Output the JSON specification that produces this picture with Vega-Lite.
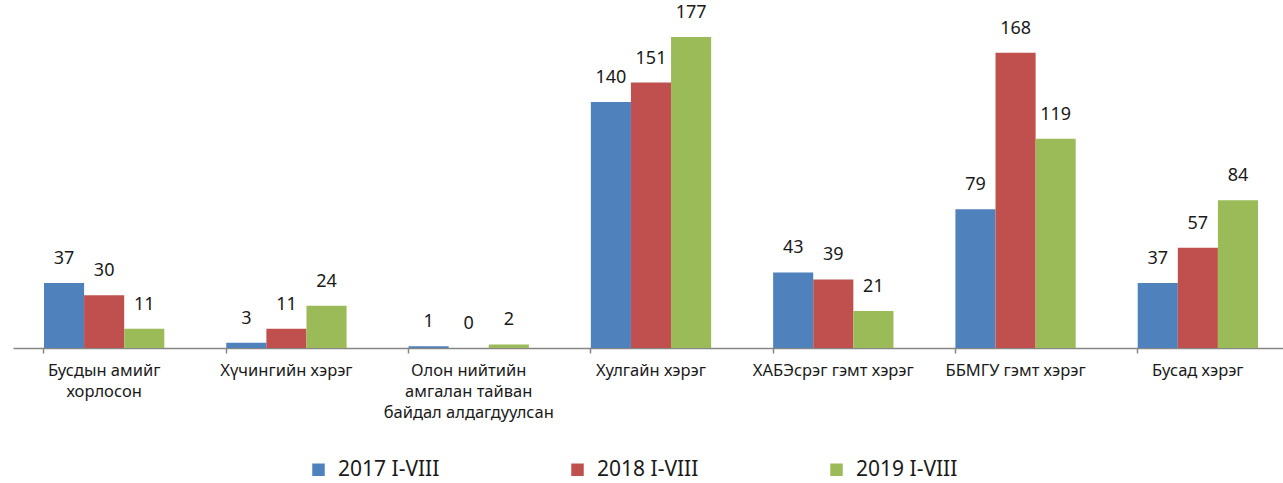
{
  "$schema": "https://vega.github.io/schema/vega-lite/v6.json",
  "width": 1276,
  "height": 348,
  "autosize": {"type": "none"},
  "padding": {"left": 13, "top": 0, "right": 0, "bottom": 135},
  "background": "white",
  "config": {"view": {"stroke": null}, "font": "Noto Sans"},
  "data": {
    "values": [
      {"category": "Бусдын амийг хорлосон", "series": "2017 I-VIII", "value": 37},
      {"category": "Бусдын амийг хорлосон", "series": "2018 I-VIII", "value": 30},
      {"category": "Бусдын амийг хорлосон", "series": "2019 I-VIII", "value": 11},
      {"category": "Хүчингийн хэрэг", "series": "2017 I-VIII", "value": 3},
      {"category": "Хүчингийн хэрэг", "series": "2018 I-VIII", "value": 11},
      {"category": "Хүчингийн хэрэг", "series": "2019 I-VIII", "value": 24},
      {"category": "Олон нийтийн амгалан тайван байдал алдагдуулсан", "series": "2017 I-VIII", "value": 1},
      {"category": "Олон нийтийн амгалан тайван байдал алдагдуулсан", "series": "2018 I-VIII", "value": 0},
      {"category": "Олон нийтийн амгалан тайван байдал алдагдуулсан", "series": "2019 I-VIII", "value": 2},
      {"category": "Хулгайн хэрэг", "series": "2017 I-VIII", "value": 140},
      {"category": "Хулгайн хэрэг", "series": "2018 I-VIII", "value": 151},
      {"category": "Хулгайн хэрэг", "series": "2019 I-VIII", "value": 177},
      {"category": "ХАБЭсрэг гэмт хэрэг", "series": "2017 I-VIII", "value": 43},
      {"category": "ХАБЭсрэг гэмт хэрэг", "series": "2018 I-VIII", "value": 39},
      {"category": "ХАБЭсрэг гэмт хэрэг", "series": "2019 I-VIII", "value": 21},
      {"category": "ББМГУ гэмт хэрэг", "series": "2017 I-VIII", "value": 79},
      {"category": "ББМГУ гэмт хэрэг", "series": "2018 I-VIII", "value": 168},
      {"category": "ББМГУ гэмт хэрэг", "series": "2019 I-VIII", "value": 119},
      {"category": "Бусад хэрэг", "series": "2017 I-VIII", "value": 37},
      {"category": "Бусад хэрэг", "series": "2018 I-VIII", "value": 57},
      {"category": "Бусад хэрэг", "series": "2019 I-VIII", "value": 84}
    ]
  },
  "encoding": {
    "x": {
      "field": "category",
      "type": "nominal",
      "sort": null,
      "title": null,
      "scale": {"paddingInner": 0.34, "paddingOuter": 0.17},
      "axis": {
        "bandPosition": 0,
        "domainColor": "#868686",
        "domainWidth": 1.5,
        "tickColor": "#868686",
        "tickWidth": 1.5,
        "tickSize": 5,
        "labelAngle": 0,
        "labelFontSize": 16.5,
        "labelColor": "#1a1a1a",
        "labelPadding": 9,
        "labelBaseline": "top",
        "labelLimit": 0,
        "labelLineHeight": 21,
        "labelFont": "Noto Sans",
        "labelExpr": "datum.label == 'Бусдын амийг хорлосон' ? ['Бусдын амийг', 'хорлосон'] : datum.label == 'Олон нийтийн амгалан тайван байдал алдагдуулсан' ? ['Олон нийтийн', 'амгалан тайван', 'байдал алдагдуулсан'] : datum.label"
      }
    },
    "xOffset": {
      "field": "series",
      "type": "nominal",
      "scale": {"paddingInner": 0, "paddingOuter": 0}
    },
    "y": {
      "field": "value",
      "type": "quantitative",
      "scale": {"domain": [0, 198], "nice": false, "zero": true},
      "axis": null
    }
  },
  "layer": [
    {
      "mark": {"type": "bar"},
      "encoding": {
        "color": {
          "field": "series",
          "type": "nominal",
          "title": null,
          "scale": {"range": ["#4F81BD", "#C0504D", "#9BBB59"]},
          "legend": {
            "orient": "none",
            "legendX": 295,
            "legendY": 459,
            "direction": "horizontal",
            "symbolType": "square",
            "symbolSize": 156,
            "symbolStrokeWidth": 0,
            "labelFontSize": 21,
            "labelColor": "#1a1a1a",
            "labelOffset": 9,
            "columnPadding": 127,
            "labelFont": "Noto Sans"
          }
        }
      }
    },
    {
      "mark": {"type": "text", "baseline": "bottom", "dy": -15, "fontSize": 18, "color": "#1a1a1a", "font": "Noto Sans"},
      "encoding": {
        "text": {"field": "value", "type": "quantitative"}
      }
    }
  ]
}
